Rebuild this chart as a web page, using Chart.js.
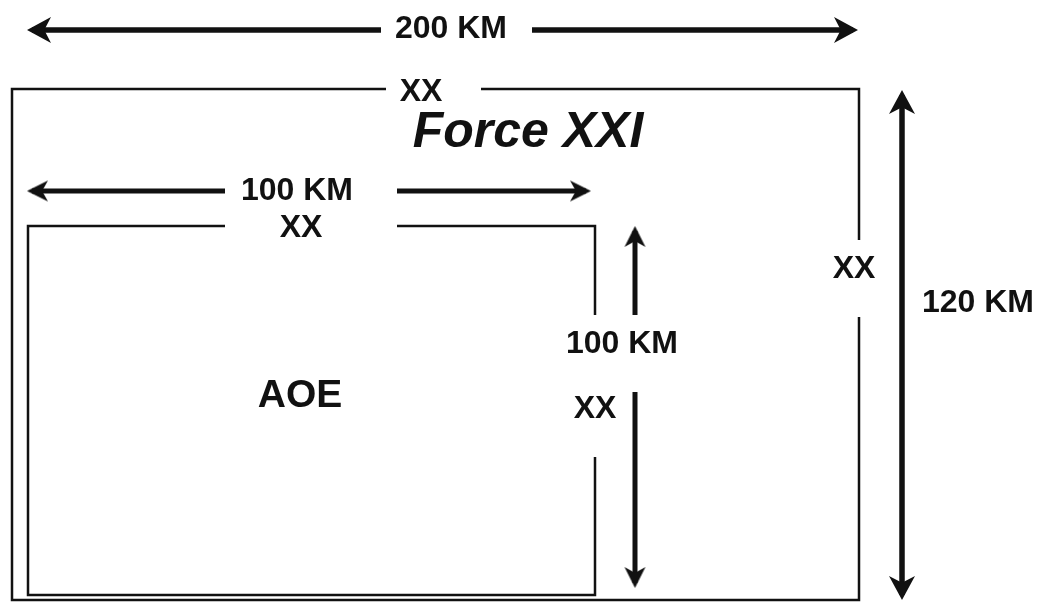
<!DOCTYPE html>
<html>
<head>
<meta charset="utf-8">
<title>Force XXI</title>
<script src="https://cdn.jsdelivr.net/npm/chart.js@4/dist/chart.umd.min.js"></script>
<style>
  html, body { margin: 0; padding: 0; background: #fff; overflow: hidden; }
  .diagram { width: 1044px; height: 605px; position: relative; }
</style>
</head>
<body>
<div class="diagram"><canvas id="diagram"></canvas></div>
<script>
// diagram units: 1 unit = 1 px of the original drawing
const outerBox = [
  [[386, 89], [12, 89], [12, 600], [859, 600], [859, 317]],
  [[859, 240], [859, 89], [481, 89]],
];
const innerBox = [
  [[225, 226], [28, 226], [28, 595], [595, 595], [595, 457]],
  [[595, 315], [595, 226], [397, 226]],
];
// each arrow half: [tail, tip]
const arrowsWide = [
  [[381, 30], [32, 30]],
  [[532, 30], [853, 30]],
  [[902, 345], [902, 95]],
  [[902, 345], [902, 595]],
];
const arrowsNarrow = [
  [[225, 191], [32, 191]],
  [[397, 191], [586, 191]],
  [[635, 315], [635, 231]],
  [[635, 392], [635, 583]],
];
const labelTexts = ["200 KM", "XX", "Force XXI", "100 KM", "XX", "XX", "120 KM", "100 KM", "XX", "AOE"];

// layout of the labels (center x, baseline y, font)
const labelPos = [[451, 38], [421, 101], [528, 147], [297, 200], [301, 237], [854, 278], [978, 312], [622, 353], [595, 418], [300, 407]];
const labelFonts = ["bold 32px", "bold 32px", "italic bold 50px", "bold 32px", "bold 32px", "bold 32px", "bold 32px", "bold 32px", "bold 32px", "bold 39px"];
const family = "'Liberation Sans', Arial, sans-serif";
const ink = "#111";

function makeHead(len, wid) {
  const off = 5;
  const c = document.createElement("canvas");
  c.width = 2 * (len + off);
  c.height = wid + 2;
  const g = c.getContext("2d");
  const cx = c.width / 2, cy = c.height / 2;
  g.fillStyle = ink;
  g.beginPath();
  g.moveTo(cx + off, cy);
  g.lineTo(cx + off - len, cy - wid / 2);
  g.lineTo(cx + off - len * 0.72, cy);
  g.lineTo(cx + off - len, cy + wid / 2);
  g.closePath();
  g.fill();
  return c;
}
const headWide = makeHead(24, 26);
const headNarrow = makeHead(21, 21);

const toPts = (arr) => arr.map((p) => ({ x: p[0], y: p[1] }));

const boxSet = (seg) => ({
  data: toPts(seg),
  showLine: true,
  borderColor: ink,
  borderWidth: 2.5,
  borderJoinStyle: "miter",
  pointRadius: 0,
  fill: false,
});

const arrowSet = (seg, head, width) => {
  const [a, b] = seg;
  const rot = (Math.atan2(b[1] - a[1], b[0] - a[0]) * 180) / Math.PI;
  return {
    data: toPts(seg),
    showLine: true,
    borderColor: ink,
    borderWidth: width,
    pointRadius: [0, 6],
    pointStyle: head,
    pointRotation: rot,
    fill: false,
  };
};

const datasets = [
  ...outerBox.map(boxSet),
  ...innerBox.map(boxSet),
  ...arrowsWide.map((s) => arrowSet(s, headWide, 5.5)),
  ...arrowsNarrow.map((s) => arrowSet(s, headNarrow, 5)),
];

const labelPlugin = {
  id: "labels",
  afterDatasetsDraw(chart) {
    const { ctx, scales } = chart;
    ctx.save();
    ctx.fillStyle = ink;
    ctx.textAlign = "center";
    ctx.textBaseline = "alphabetic";
    labelTexts.forEach((t, i) => {
      ctx.font = labelFonts[i] + " " + family;
      ctx.fillText(t, scales.x.getPixelForValue(labelPos[i][0]), scales.y.getPixelForValue(labelPos[i][1]));
    });
    ctx.restore();
  },
};

new Chart(document.getElementById("diagram"), {
  type: "scatter",
  data: { datasets },
  options: {
    responsive: true,
    maintainAspectRatio: false,
    animation: false,
    events: [],
    layout: { padding: 0, autoPadding: false },
    scales: {
      x: { type: "linear", min: 0, max: 1044, display: false },
      y: { type: "linear", min: 0, max: 605, reverse: true, display: false },
    },
    plugins: { legend: { display: false }, tooltip: { enabled: false } },
  },
  plugins: [labelPlugin],
});
</script>
</body>
</html>
